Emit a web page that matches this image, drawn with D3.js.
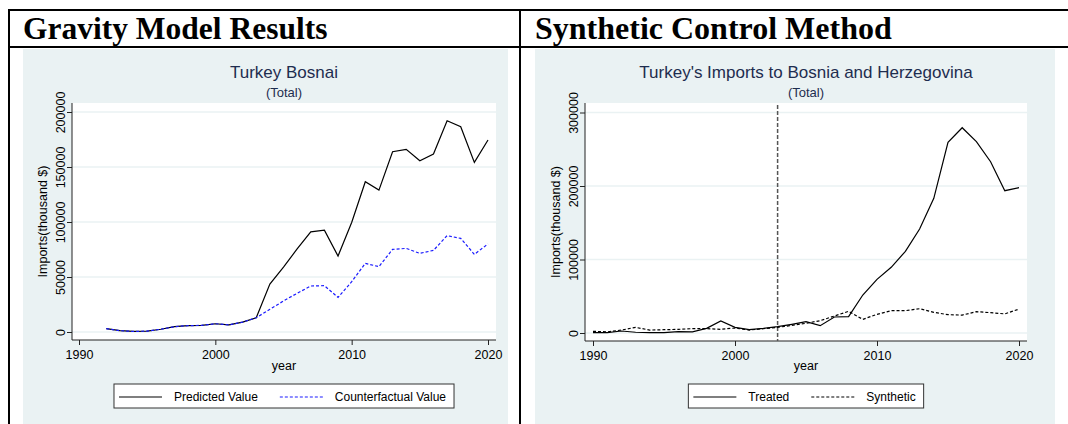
<!DOCTYPE html>
<html>
<head>
<meta charset="utf-8">
<script src="https://cdn.jsdelivr.net/npm/d3@7"></script>
<style>
  body { margin: 0; background: #fff; }
  svg { display: block; }
</style>
</head>
<body>
<svg width="1068" height="424"></svg>
<script>
// gravity model panel
let gravityYears = [1992, 1993, 1994, 1995, 1996, 1997, 1998, 1999, 2000, 2001, 2002, 2003, 2004, 2005, 2006,
    2007, 2008, 2009, 2010, 2011, 2012, 2013, 2014, 2015, 2016, 2017, 2018, 2019, 2020]
let predictedValue = [3000, 1200, 500, 800, 2500, 4800, 5800, 6000, 7500, 6500, 9000, 13000, 43600, 59000, 75500,
    91000, 92500, 69000, 99500, 136600, 129000, 163900, 166000, 155700, 161800, 192000, 186600, 154200, 174500]
let counterfactualValue = [3000, 1200, 500, 800, 2500, 4800, 5800, 6000, 7500, 6500, 9000, 13000, 20600, 28200, 35200,
    41800, 42100, 31500, 45700, 62400, 59400, 75100, 76000, 71500, 74200, 87600, 85100, 70600, 80000]
let gravityYTicks = [0, 50000, 100000, 150000, 200000]

// synthetic control panel
let scmYears = [1990, 1991, 1992, 1993, 1994, 1995, 1996, 1997, 1998, 1999, 2000, 2001, 2002, 2003, 2004, 2005,
    2006, 2007, 2008, 2009, 2010, 2011, 2012, 2013, 2014, 2015, 2016, 2017, 2018, 2019, 2020]
let treated = [500, 500, 2700, 1000, 500, 500, 2000, 1500, 6300, 16300, 7700, 4500, 6300, 8600, 11800, 15400,
    10000, 21800, 22200, 51700, 73000, 89400, 111100, 141500, 183200, 259400, 279300, 260300, 233000, 193600, 197700]
let synthetic = [2300, 1600, 4000, 7700, 4000, 4500, 5000, 5900, 5900, 5000, 6800, 4000, 5900, 7700, 10400, 13200,
    16800, 23100, 29500, 18600, 25400, 30400, 30400, 33000, 28100, 24900, 24400, 29000, 27700, 26000, 32500]
let scmYTicks = [0, 100000, 200000, 300000]
let treatmentYear = 2003

let xTicks = [1990, 2000, 2010, 2020]

let svg = d3.select('svg')
let sans = '"Liberation Sans", Arial, sans-serif'
let bgColor = '#eaf2f3'
let titleColor = '#1e2d4f'

// table frame + headers
svg.append('rect').attr('x', 23).attr('y', 49).attr('width', 485).attr('height', 380).attr('fill', bgColor)
svg.append('rect').attr('x', 535).attr('y', 49).attr('width', 520).attr('height', 380).attr('fill', bgColor)

let frame = svg.append('g').attr('stroke', '#000').attr('stroke-width', 2)
frame.append('line').attr('x1', 8).attr('x2', 1068).attr('y1', 10).attr('y2', 10)
frame.append('line').attr('x1', 8).attr('x2', 1068).attr('y1', 47).attr('y2', 47)
frame.append('line').attr('x1', 9).attr('x2', 9).attr('y1', 9).attr('y2', 424)
frame.append('line').attr('x1', 520).attr('x2', 520).attr('y1', 9).attr('y2', 424)

svg.append('text').text('Gravity Model Results')
    .attr('x', 23).attr('y', 39)
    .attr('font-family', '"Liberation Serif", "Times New Roman", serif')
    .attr('font-weight', 'bold').attr('font-size', 31.5)
svg.append('text').text('Synthetic Control Method')
    .attr('x', 535).attr('y', 39)
    .attr('font-family', '"Liberation Serif", "Times New Roman", serif')
    .attr('font-weight', 'bold').attr('font-size', 32)

drawPanel({
    title: 'Turkey Bosnai',
    plot: { x0: 72, x1: 496, y0: 103, y1: 340 },
    xRange: [79, 488],
    yDomain: [0, 200000], yRange: [332, 112],
    yTicks: gravityYTicks,
    series: [
        { name: 'Predicted Value', years: gravityYears, values: predictedValue, color: '#000', dash: null },
        { name: 'Counterfactual Value', years: gravityYears, values: counterfactualValue, color: '#1a1aff', dash: '3,2' }
    ]
})

drawPanel({
    title: "Turkey's Imports to Bosnia and Herzegovina",
    plot: { x0: 585, x1: 1027, y0: 103, y1: 341 },
    xRange: [593, 1019],
    yDomain: [0, 300000], yRange: [333, 112.5],
    yTicks: scmYTicks,
    vline: treatmentYear,
    series: [
        { name: 'Treated', years: scmYears, values: treated, color: '#000', dash: null },
        { name: 'Synthetic', years: scmYears, values: synthetic, color: '#000', dash: '3,2' }
    ]
})

function drawPanel(cfg) {
    let p = cfg.plot,
        cx = (p.x0 + p.x1) / 2,
        g = svg.append('g')

    let x = d3.scaleLinear().domain([1990, 2020]).range(cfg.xRange)
    let y = d3.scaleLinear().domain(cfg.yDomain).range(cfg.yRange)

    // plot region
    g.append('rect')
        .attr('x', p.x0).attr('y', p.y0)
        .attr('width', p.x1 - p.x0).attr('height', p.y1 - p.y0)
        .attr('fill', '#fff')

    // grid
    g.selectAll('line.grid')
        .data(cfg.yTicks)
        .enter()
        .append('line')
        .attr('class', 'grid')
        .attr('x1', p.x0).attr('x2', p.x1)
        .attr('y1', d => y(d)).attr('y2', d => y(d))
        .attr('stroke', bgColor).attr('stroke-width', 1.5)

    // titles
    g.append('text').text(cfg.title)
        .attr('x', cx).attr('y', 78)
        .attr('text-anchor', 'middle')
        .attr('font-family', sans).attr('font-size', 17)
        .attr('fill', titleColor)
    g.append('text').text('(Total)')
        .attr('x', cx).attr('y', 97)
        .attr('text-anchor', 'middle')
        .attr('font-family', sans).attr('font-size', 13)
        .attr('fill', titleColor)

    // axes
    let xAxis = g.append('g')
        .attr('transform', 'translate(0,' + p.y1 + ')')
        .call(d3.axisBottom(x).tickValues(xTicks).tickFormat(d3.format('d')).tickSize(5).tickSizeOuter(0))
    xAxis.select('.domain').attr('d', 'M' + p.x0 + ',0H' + p.x1)
    xAxis.selectAll('text').attr('font-family', sans).attr('font-size', 12.5).attr('fill', '#000').attr('dy', '0.85em')

    let yAxis = g.append('g')
        .attr('transform', 'translate(' + p.x0 + ',0)')
        .call(d3.axisLeft(y).tickValues(cfg.yTicks).tickFormat(d3.format('d')).tickSize(5).tickSizeOuter(0))
    yAxis.select('.domain').attr('d', 'M0,' + p.y0 + 'V' + p.y1)
    yAxis.selectAll('text')
        .attr('font-family', sans).attr('font-size', 12.5).attr('fill', '#000')
        .attr('x', null).attr('dy', null)
        .attr('text-anchor', 'middle')
        .attr('transform', 'translate(-7,0) rotate(-90)')
    g.selectAll('.domain, .tick line').attr('stroke', '#222')

    g.append('text').text('Imports(thousand $)')
        .attr('transform', 'translate(' + (p.x0 - 25) + ',' + ((p.y0 + p.y1) / 2) + ') rotate(-90)')
        .attr('text-anchor', 'middle')
        .attr('font-family', sans).attr('font-size', 12.5)
    g.append('text').text('year')
        .attr('x', cx).attr('y', 370)
        .attr('text-anchor', 'middle')
        .attr('font-family', sans).attr('font-size', 12.5)

    // treatment line
    if (cfg.vline) {
        g.append('line')
            .attr('x1', x(cfg.vline)).attr('x2', x(cfg.vline))
            .attr('y1', p.y0 + 2).attr('y2', p.y1)
            .attr('stroke', '#555').attr('stroke-width', 1.5)
            .attr('stroke-dasharray', '4,2')
    }

    // series
    let line = d3.line().x(d => x(d[0])).y(d => y(d[1]))
    cfg.series.forEach(s => {
        g.append('path')
            .datum(d3.zip(s.years, s.values))
            .attr('d', line)
            .attr('fill', 'none')
            .attr('stroke', s.color)
            .attr('stroke-width', 1.2)
            .attr('stroke-dasharray', s.dash)
    })

    // legend
    let legend = g.append('g')
    let box = legend.append('rect')
        .attr('y', 384).attr('height', 24)
        .attr('fill', '#fff').attr('stroke', '#333').attr('stroke-width', 1)
    let cursor = 5
    cfg.series.forEach(s => {
        legend.append('line')
            .attr('x1', cursor).attr('x2', cursor + 43)
            .attr('y1', 397).attr('y2', 397)
            .attr('stroke', s.color).attr('stroke-width', 1.2)
            .attr('stroke-dasharray', s.dash)
        let t = legend.append('text').text(s.name)
            .attr('x', cursor + 55).attr('y', 401)
            .attr('font-family', sans).attr('font-size', 12)
        cursor += 55 + t.node().getComputedTextLength() + 22
    })
    let w = cursor - 22 + 8
    box.attr('x', 0).attr('width', w)
    legend.attr('transform', 'translate(' + (cx - w / 2) + ',0)')
}
</script>
</body>
</html>
